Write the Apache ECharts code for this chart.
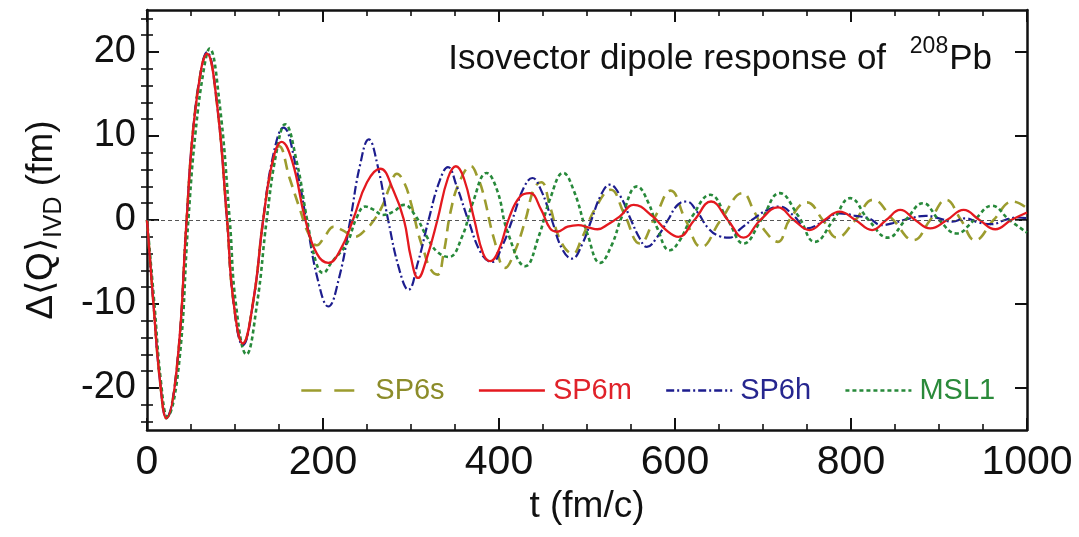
<!DOCTYPE html>
<html><head><meta charset="utf-8">
<script src="https://cdn.jsdelivr.net/npm/echarts@6/dist/echarts.min.js"></script>
<style>html,body{margin:0;padding:0;background:#fff}#c{width:1079px;height:537px}</style>
</head><body><div id="c"></div>
<script>
// ---- data ----
const seriesNames = ['SP6s', 'SP6m', 'SP6h', 'MSL1'];
const xTickLabels = [0, 200, 400, 600, 800, 1000];
const yTickLabels = [-20, -10, 0, 10, 20];
const yMinorTicks = [-24, -22, -18, -16, -14, -12, -8, -6, -4, -2, 2, 4, 6, 8, 12, 14, 16, 18, 22, 24];

const tSP6s = [0, 7, 15, 22, 34, 45, 52, 62, 68, 79, 91, 98, 109, 121, 132, 143, 150, 162, 174, 183, 193, 203, 212, 222, 236, 248, 258, 268, 276, 284, 292, 300, 308, 314, 322, 330, 337, 345, 355, 368, 376, 382, 395, 407, 417, 430, 440, 448, 458, 470, 484, 494, 510, 527, 542, 560, 578, 595, 612, 630, 652, 677, 690, 703, 717, 730, 750, 768, 784, 805, 825, 848, 871, 890, 908, 925, 941, 962, 984, 1000];
const vSP6s = [0, -9.5, -19.4, -23.6, -17.5, 0, 10.3, 18.2, 19.8, 14.3, 0, -9.5, -14.7, -9.5, 0, 7.0, 8.8, 5, 1.2, -1.5, -3.0, -1.8, -0.8, -1.2, -2.0, -1.2, 0, 1.8, 4.0, 5.5, 4.5, 2.0, -1.5, -3.5, -5.8, -6.5, -4, 1.0, 4.5, 6.4, 5, 3.2, -2.5, -5.7, -4.0, 0, 3.8, 4.5, 1.6, -2.5, -4.0, -2.2, 1.5, 3.6, 0.8, -2.8, 0.5, 3.5, 0, -3.2, 0, 3.2, 1, -1.4, -2.6, 0, 2.1, 0, -2.1, 0, 2.4, 0, -2.4, 0, 2.4, 0, -2.4, 0, 2.2, 1.4];

const tSP6m = [0, 7, 15, 22, 34, 45, 52, 62, 68, 79, 91, 98, 109, 121, 132, 143, 153, 165, 180, 193, 206, 220, 234, 250, 265, 280, 292, 300, 308, 318, 330, 342, 351, 360, 372, 382, 390, 400, 412, 424, 435, 448, 458, 466, 478, 490, 502, 512, 524, 537, 553, 575, 590, 604, 622, 641, 660, 678, 697, 717, 735, 753, 770, 787, 805, 824, 840, 856, 873, 890, 909, 928, 946, 964, 982, 1000];
const vSP6m = [0, -9.5, -19.4, -23.6, -17.5, 0, 10.3, 18.2, 19.8, 14.3, 0, -9.5, -14.7, -9.5, 0, 7.1, 9.3, 7.0, 0, -4, -5.1, -3.5, 0, 4.5, 6.1, 3.5, 0, -4.5, -6.9, -4.5, 0, 5, 6.4, 5, 0, -4, -4.9, -3.5, 0.4, 2.8, 3.2, 1.2, -1.0, -1.4, -0.8, -0.6, -0.9, -1.1, -0.5, 0.4, 1.8, 0.4, -1.2, -2.0, 0, 2.2, 0, -2.1, 0, 1.5, 0, -1.2, 0, 1.0, 0, -1.2, 0, 1.2, 0, -1.0, 0, 1.2, 0, -1.1, 0, 0.9];

const tSP6h = [0, 7, 15, 22, 34, 45, 52, 62, 68, 79, 91, 98, 109, 121, 132, 143, 155, 170, 181, 195, 206, 218, 231, 242, 252, 262, 274, 287, 297, 308, 320, 332, 342, 352, 365, 380, 392, 404, 415, 428, 438, 448, 460, 472, 483, 494, 505, 516, 526, 537, 550, 560, 568, 580, 592, 603, 613, 625, 638, 650, 662, 675, 690, 705, 719, 735, 750, 768, 787, 805, 820, 835, 850, 867, 885, 900, 915, 930, 945, 960, 975, 990, 1000];
const vSP6h = [0, -9.5, -19.4, -23.6, -17.5, 0, 10.3, 18.2, 20.0, 14.3, 0, -9.5, -14.9, -9.5, 0, 7.5, 11.0, 6, 0, -7.5, -10.3, -7, 0, 6.5, 9.6, 6.5, 0, -6, -8.3, -5, 0, 4.5, 6.3, 4, 0, -4, -5.0, -3, 0, 3.8, 5.0, 3.5, 0, -3.5, -4.6, -3, 0, 3, 4.2, 3, 0, -2.2, -3.2, -2, 0, 1.8, 2.2, 1, -1, -1.9, -2.1, -1, 0.2, 1.2, 1.6, 0.5, -1.0, -0.2, 0.8, 0.5, 0.2, -0.6, -0.3, 0.2, 0.5, 0.2, -0.2, 0.2, -0.3, -0.5, 0, 0.3, 0.2];

const tMSL1 = [0, 8, 16, 23, 36, 47, 55, 65, 71, 82, 94, 101, 113, 125, 136, 147, 157, 170, 182, 192, 200, 210, 227, 238, 248, 258, 268, 280, 292, 305, 318, 330, 343, 358, 370, 386, 398, 410, 430, 445, 458, 473, 485, 500, 515, 528, 540, 557, 570, 580, 594, 605, 620, 640, 660, 678, 698, 719, 740, 759, 780, 799, 820, 842, 862, 882, 900, 920, 940, 960, 980, 1000];
const vMSL1 = [0, -9.5, -19.4, -23.4, -17.5, 0, 10.3, 18.2, 20.4, 14.3, 0, -10, -16.0, -10, 0, 8, 11.4, 7, 0, -5, -6.3, -5, -2.8, 0.2, 1.6, 1.2, 0.6, 1.0, 1.8, 0.5, -2, -3.8, -4.4, -2, 2, 5.6, 3.5, -1.5, -5.5, -2, 2.5, 5.6, 3.5, -1.5, -5.1, -3, 0.5, 4.0, 2, -1, -3.6, -2.5, 0.5, 3.0, 0, -2.8, 0, 3.2, 0.5, -2.6, 0, 2.6, 0, -2.1, 0, 2.0, 0, -1.6, 0, 1.7, 0, -1.5];

const seriesColors = ['#9c9c2e', '#e4191f', '#1d1d8e', '#27893a'];
const legendTextColors = ['#8c8c2a', '#e0222a', '#26268f', '#2a8a3a'];
const lineTypes = [[11, 7], 'solid', [9, 3, 2, 3], [4, 3]];
const legendLineTypes = [[20, 13], 'solid', [8, 3, 2, 3], [4, 3]];
const lineWidths = [2.6, 2.3, 2.2, 2.6];

const tArr = [tSP6s, tSP6m, tSP6h, tMSL1];
const vArr = [vSP6s, vSP6m, vSP6h, vMSL1];

const zip = (t, v) => t.map((x, i) => [x, v[i]]);

const FONT = "'Liberation Sans',Arial,sans-serif";

const chart = echarts.init(document.getElementById('c'), null, {renderer: 'canvas'});

const frameLine = {show: true, onZero: false, lineStyle: {color: '#111', width: 2.5}};

const series = seriesNames.map((n, i) => ({
  name: n,
  type: 'line',
  data: zip(tArr[i], vArr[i]),
  smooth: 0.45,
  showSymbol: false,
  symbol: 'none',
  lineStyle: {color: seriesColors[i], width: lineWidths[i], type: lineTypes[i]},
  itemStyle: {color: seriesColors[i]},
  z: 3 + (i === 1 ? 1 : 0),
  animation: false
}));
series[0].markLine = {
  silent: true, symbol: 'none', animation: false,
  label: {show: false},
  lineStyle: {color: '#555', width: 1, type: [4, 3]},
  data: [{yAxis: 0}]
};

const option = {
  backgroundColor: '#fff',
  animation: false,
  title: {
    text: '{a|Isovector dipole response of }{s|208}{a|Pb}',
    right: 82, top: 30,
    textStyle: {
      fontWeight: 'normal',
      rich: {
        a: {fontFamily: FONT, fontSize: 35, fontWeight: 'normal', color: '#111', lineHeight: 42, verticalAlign: 'bottom'},
        s: {fontFamily: FONT, fontSize: 23, fontWeight: 'normal', color: '#111', lineHeight: 42, verticalAlign: 'top', padding: [0, 1, 12, 14]}
      }
    }
  },
  legend: {
    left: 295, top: 371,
    itemWidth: 66, itemHeight: 14, itemGap: 33,
    itemStyle: {opacity: 0},
    data: seriesNames.map((n, i) => ({
      name: n,
      textStyle: {color: legendTextColors[i]},
      lineStyle: {color: seriesColors[i], width: 2.6, type: legendLineTypes[i]}
    })),
    textStyle: {fontFamily: FONT, fontSize: 29, padding: [0, 0, 0, 3]}
  },
  grid: {left: 147, right: 52, top: 10, bottom: 107, containLabel: false},
  xAxis: [
    {
      type: 'value', min: 0, max: 1000, interval: 200, position: 'bottom',
      axisLine: frameLine,
      axisTick: {show: true, inside: true, length: 12, lineStyle: {color: '#111', width: 2}},
      minorTick: {show: true, splitNumber: 4, length: 6, lineStyle: {color: '#111', width: 1.6}},
      splitLine: {show: false}, minorSplitLine: {show: false},
      axisLabel: {fontFamily: FONT, fontSize: 41, color: '#111', margin: 12,
        customValues: xTickLabels, formatter: v => String(v)},
      name: 't (fm/c)', nameLocation: 'middle', nameGap: 58,
      nameTextStyle: {fontFamily: FONT, fontSize: 37, color: '#111'}
    },
    {
      type: 'value', min: 0, max: 1000, interval: 200, position: 'top',
      axisLine: frameLine,
      axisTick: {show: true, inside: true, length: 12, lineStyle: {color: '#111', width: 2}},
      minorTick: {show: true, splitNumber: 4, length: 6, lineStyle: {color: '#111', width: 1.6}},
      splitLine: {show: false}, axisLabel: {show: false}
    }
  ],
  yAxis: [
    {
      type: 'value', min: -25, max: 25, position: 'left',
      axisLine: frameLine,
      axisTick: {show: true, inside: true, length: 12, lineStyle: {color: '#111', width: 2}, customValues: yTickLabels},
      splitLine: {show: false},
      axisLabel: {fontFamily: FONT, fontSize: 38, color: '#111', margin: 11, customValues: yTickLabels, formatter: v => String(v)},
      name: '{a|Δ⟨Q⟩}{s|IVD}{a| (fm)}', nameLocation: 'middle', nameGap: 80, nameRotate: 90,
      nameTextStyle: {
        rich: {
          a: {fontFamily: FONT, fontSize: 37, color: '#111', lineHeight: 44, verticalAlign: 'top'},
          s: {fontFamily: FONT, fontSize: 25, color: '#111', lineHeight: 44, verticalAlign: 'bottom', padding: [16, 0, 0, 0]}
        }
      }
    },
    {
      type: 'value', min: -25, max: 25, position: 'right',
      axisLine: frameLine,
      axisTick: {show: true, inside: true, length: 12, lineStyle: {color: '#111', width: 2}, customValues: yTickLabels},
      splitLine: {show: false}, axisLabel: {show: false}
    },
    {
      type: 'value', min: -25, max: 25, position: 'left',
      axisLine: {show: false},
      axisTick: {show: true, inside: true, length: 6, lineStyle: {color: '#111', width: 1.6}, customValues: yMinorTicks},
      splitLine: {show: false}, axisLabel: {show: false}
    },
    {
      type: 'value', min: -25, max: 25, position: 'right',
      axisLine: {show: false},
      axisTick: {show: true, inside: true, length: 6, lineStyle: {color: '#111', width: 1.6}, customValues: yMinorTicks},
      splitLine: {show: false}, axisLabel: {show: false}
    }
  ],
  series: series
};
chart.setOption(option);
</script>
</body></html>
